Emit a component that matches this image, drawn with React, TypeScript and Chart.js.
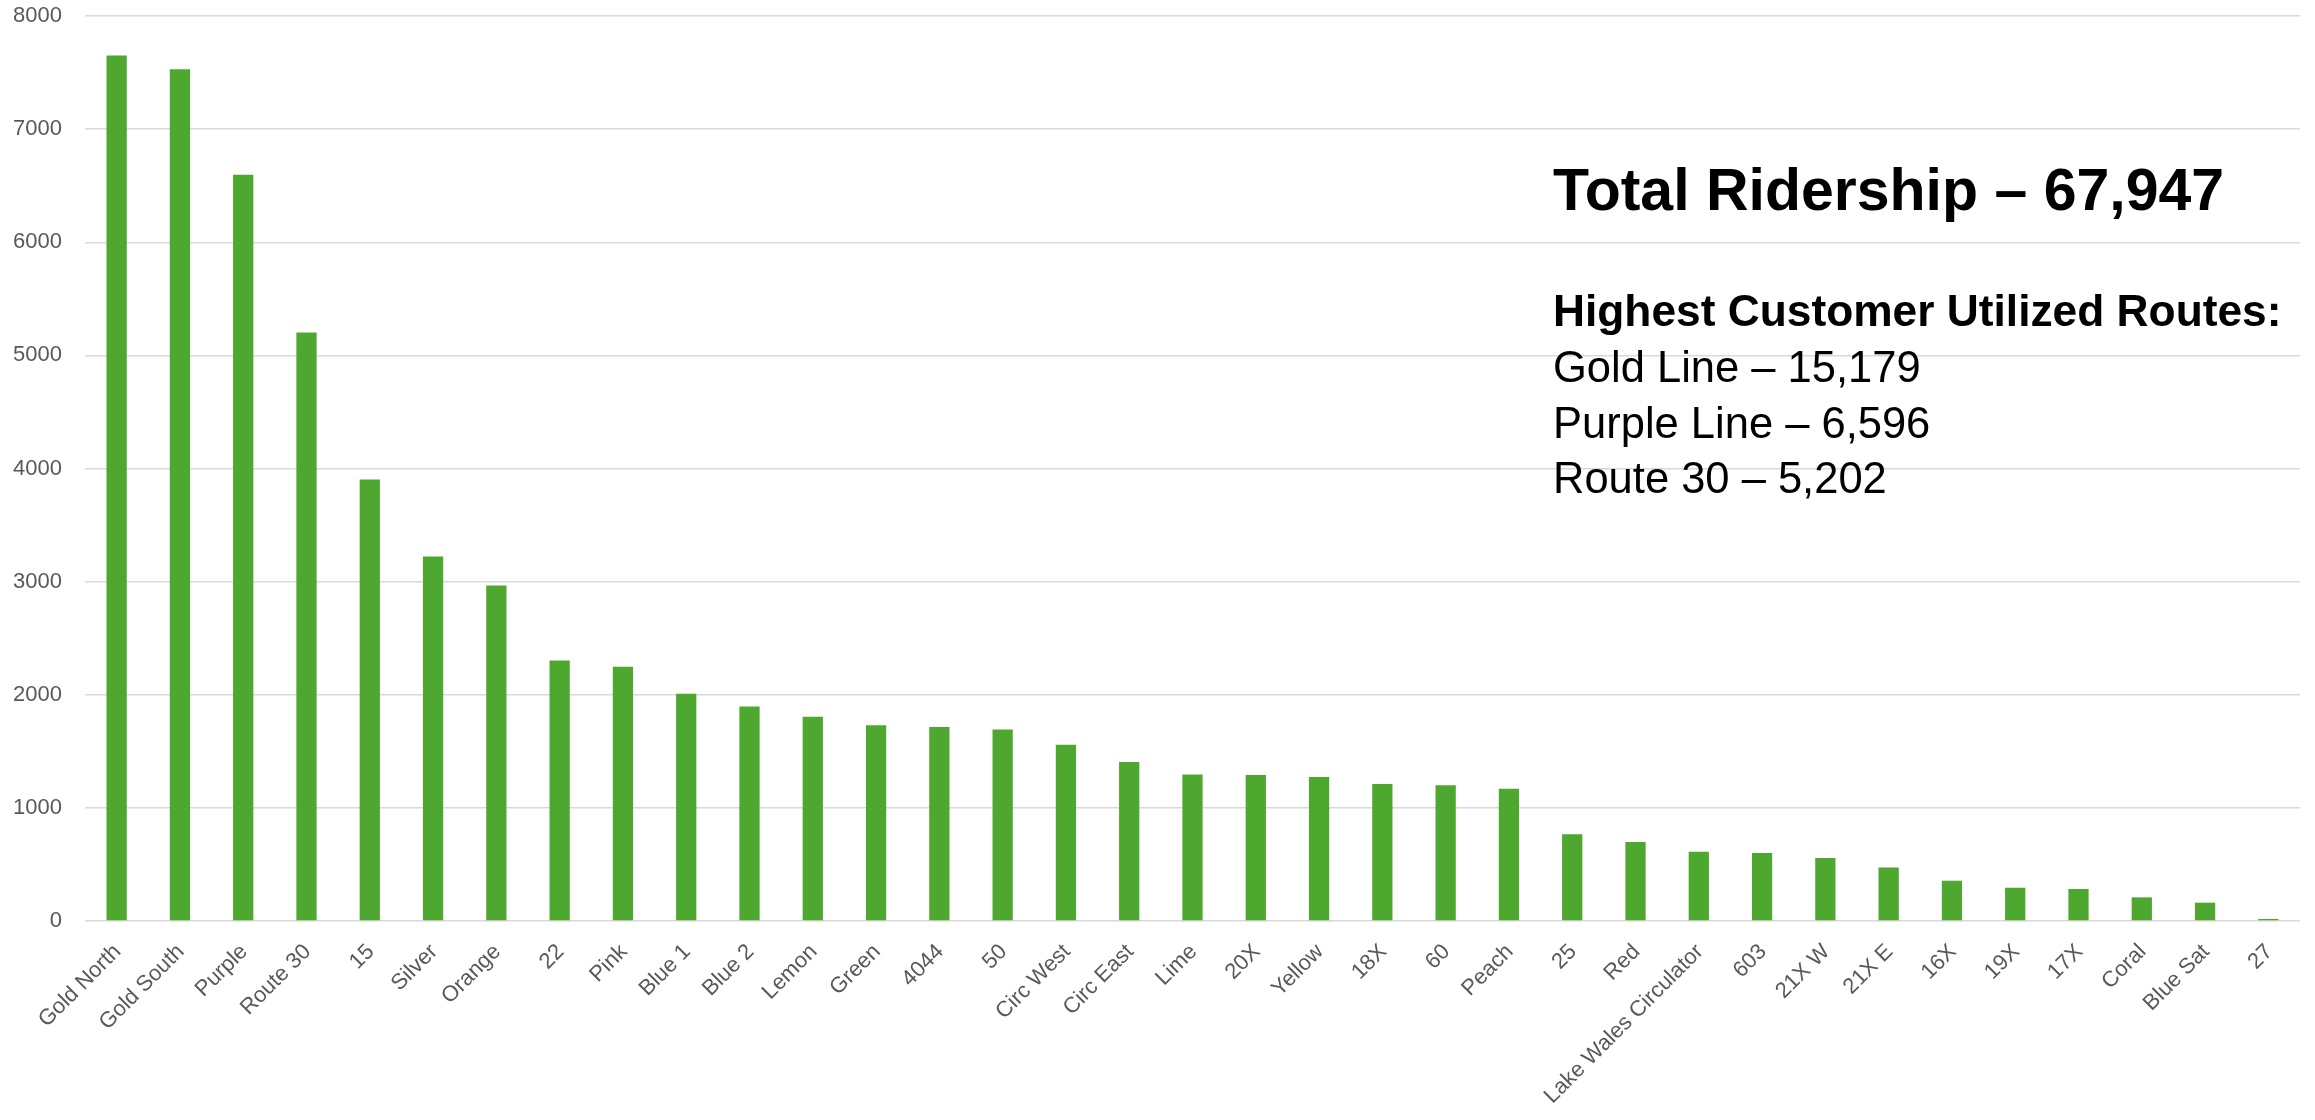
import React, { useEffect, useRef } from "react";
import { Chart, registerables } from "chart.js";

Chart.register(...registerables);

const routes = [
  "Gold North", "Gold South", "Purple", "Route 30", "15", "Silver", "Orange", "22", "Pink",
  "Blue 1", "Blue 2", "Lemon", "Green", "4044", "50", "Circ West", "Circ East", "Lime",
  "20X", "Yellow", "18X", "60", "Peach", "25", "Red", "Lake Wales Circulator", "603",
  "21X W", "21X E", "16X", "19X", "17X", "Coral", "Blue Sat", "27",
];

const ridership = [
  7650, 7529, 6596, 5202, 3903, 3221, 2965, 2303, 2247,
  2009, 1897, 1806, 1731, 1716, 1693, 1557, 1406, 1294,
  1291, 1273, 1211, 1199, 1170, 766, 698, 612, 601,
  556, 473, 356, 294, 283, 209, 162, 18,
];

const yTicks = [0, 1000, 2000, 3000, 4000, 5000, 6000, 7000, 8000];

const titleText = "Total Ridership – 67,947";
const subTitle = "Highest Customer Utilized Routes:";
const topRoutes = ["Gold Line – 15,179", "Purple Line – 6,596", "Route 30 – 5,202"];

const W = 2315;
const H = 1120;
const FONT = "'Liberation Sans', Arial, sans-serif";

export default function App() {
  const ref = useRef<HTMLCanvasElement | null>(null);

  useEffect(() => {
    if (!ref.current) return;
    const chart = new Chart(ref.current, {
      type: "bar",
      data: {
        labels: routes,
        datasets: [
          {
            label: "Ridership",
            data: ridership,
            backgroundColor: "#4EA72E",
            borderWidth: 0,
            barPercentage: 0.32,
            categoryPercentage: 1,
          },
        ],
      },
      options: {
        animation: false,
        responsive: false,
        maintainAspectRatio: false,
        layout: { padding: { top: 16, right: 15, left: 0, bottom: 0 } },
        plugins: { legend: { display: false }, tooltip: { enabled: false } },
        scales: {
          x: {
            offset: true,
            grid: { display: false, drawTicks: false },
            border: { display: false },
            ticks: {
              autoSkip: false,
              maxRotation: 45,
              minRotation: 45,
              padding: 18,
              labelOffset: 1,
              color: "#595959",
              font: { family: FONT, size: 22 },
            },
            afterFit: (scale: any) => {
              scale.height = 199;
              scale.paddingLeft = 0;
              scale.paddingRight = 0;
            },
          },
          y: {
            min: 0,
            max: 8000,
            afterBuildTicks: (scale: any) => {
              scale.ticks = yTicks.map((v) => ({ value: v }));
            },
            grid: { color: "#D9D9D9", lineWidth: 1.5, drawTicks: false },
            border: { display: false },
            ticks: {
              padding: 23,
              color: "#595959",
              font: { family: FONT, size: 22 },
              callback: (v: any) => String(v),
            },
            afterFit: (scale: any) => {
              scale.width = 85;
              scale.paddingTop = 0;
              scale.paddingBottom = 0;
            },
          },
        },
      },
    });
    return () => chart.destroy();
  }, []);

  const lineStyle = (top: number, size: number, bold: boolean): React.CSSProperties => ({
    position: "absolute",
    left: 1553,
    top,
    fontFamily: FONT,
    fontSize: size,
    lineHeight: `${size}px`,
    fontWeight: bold ? 700 : 400,
    color: "#000000",
    whiteSpace: "nowrap",
  });

  return (
    <div style={{ position: "fixed", left: 0, top: 0, width: W, height: H, background: "#ffffff" }}>
      <canvas ref={ref} width={W} height={H} style={{ display: "block", width: W, height: H }} />
      <div style={lineStyle(161, 59, true)}>{titleText}</div>
      <div style={lineStyle(288.5, 44.3, true)}>{subTitle}</div>
      {topRoutes.map((t, i) => (
        <div key={t} style={lineStyle(346 + i * 55.7, 43.5, false)}>{t}</div>
      ))}
    </div>
  );
}
